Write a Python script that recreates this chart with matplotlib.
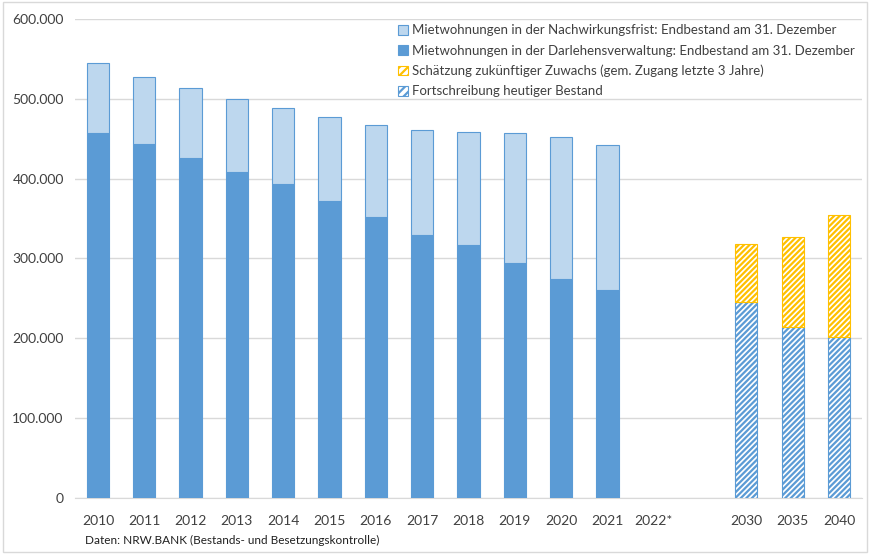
import matplotlib.pyplot as plt
from matplotlib.ticker import FuncFormatter
from matplotlib.patches import Rectangle, Patch

plt.rcParams['font.family'] = ['Lato', 'DejaVu Sans']
plt.rcParams['hatch.linewidth'] = 1.6

labels = ["2010", "2011", "2012", "2013", "2014", "2015", "2016", "2017",
          "2018", "2019", "2020", "2021", "2022*", "", "2030", "2035", "2040"]

# Bestand (Jahre 2010-2021)
darlehen = [457000, 443500, 426000, 408500, 393500, 372000, 352000, 329500,
            317000, 294500, 274500, 261000]
gesamt = [545000, 527500, 514000, 500000, 488500, 476500, 467500, 461000,
          458500, 457500, 452500, 442500]

# Prognose (2030, 2035, 2040)
fortschreibung = [245500, 214500, 202000]
prognose_gesamt = [318500, 327000, 354500]

nachwirkung = [g - d for g, d in zip(gesamt, darlehen)]
zuwachs = [g - f for g, f in zip(prognose_gesamt, fortschreibung)]

dark = "#5B9BD5"
light = "#BDD7EE"
gold = "#FFC000"

fig = plt.figure(figsize=(8.7, 5.54), dpi=100)
ax = fig.add_axes([0.086, 0.101, 0.905, 0.865])

x_hist = list(range(len(darlehen)))
x_prog = [14, 15, 16]
w = 0.48

ax.bar(x_hist, darlehen, width=w, color=dark, edgecolor=dark, linewidth=0.8, zorder=3)
ax.bar(x_hist, nachwirkung, width=w, bottom=darlehen, color=light, edgecolor=dark,
       linewidth=0.8, zorder=3)
ax.bar(x_prog, fortschreibung, width=w, color="white", edgecolor=dark, hatch="//////",
       linewidth=0.8, zorder=3)
ax.bar(x_prog, zuwachs, width=w, bottom=fortschreibung, color="white", edgecolor=gold,
       hatch="//////", linewidth=0.8, zorder=3)

ax.set_xlim(-0.5, len(labels) - 0.5)
ax.set_ylim(0, 600000)
ax.set_yticks(range(0, 600001, 100000))
ax.yaxis.set_major_formatter(FuncFormatter(lambda v, p: f"{int(v):,}".replace(",", ".")))
ax.set_xticks(range(len(labels)))
ax.set_xticklabels(labels)
ax.tick_params(axis="both", length=0, labelsize=10, colors="#404040")
ax.tick_params(axis="x", pad=12)
ax.tick_params(axis="y", pad=8)
ax.grid(axis="y", color="#D9D9D9", linewidth=1, zorder=0)
for s in ["top", "right", "left"]:
    ax.spines[s].set_visible(False)
ax.spines["bottom"].set_color("#D9D9D9")

handles = [
    Patch(facecolor=light, edgecolor=dark, linewidth=0.8),
    Patch(facecolor=dark, edgecolor=dark, linewidth=0.8),
    Patch(facecolor="white", edgecolor=gold, hatch="////", linewidth=0.8),
    Patch(facecolor="white", edgecolor=dark, hatch="////", linewidth=0.8),
]
leg_labels = [
    "Mietwohnungen in der Nachwirkungsfrist: Endbestand am 31. Dezember",
    "Mietwohnungen in der Darlehensverwaltung: Endbestand am 31. Dezember",
    "Schätzung zukünftiger Zuwachs (gem. Zugang letzte 3 Jahre)",
    "Fortschreibung heutiger Bestand",
]
ax.legend(handles, leg_labels, loc="upper left", bbox_to_anchor=(0.4, 1.005),
          frameon=False, fontsize=9.5, handlelength=0.75, handleheight=0.75,
          handletextpad=0.3, labelspacing=0.62, labelcolor="#404040",
          borderaxespad=0.2)

fig.text(0.098, 0.018, "Daten: NRW.BANK (Bestands- und Besetzungskontrolle)",
         fontsize=8.5, color="#202020")

fig.patches.append(Rectangle((0.004, 0.004), 0.992, 0.992, transform=fig.transFigure,
                             fill=False, edgecolor="#D9D9D9", linewidth=1))

fig.savefig("out.png", dpi=100)
